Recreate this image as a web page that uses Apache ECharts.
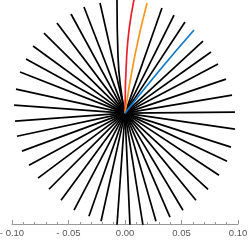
<!DOCTYPE html>
<html>
<head>
<meta charset="utf-8">
<script src="https://cdn.jsdelivr.net/npm/echarts@6/dist/echarts.min.js"></script>
<style>
html,body{margin:0;padding:0;background:#fff;}
#c{width:249px;height:243px;}
</style>
</head>
<body>
<div id="c"></div>
<script>
// Tick labels on the x axis
var xTicks = [-0.10, -0.05, 0.00, 0.05, 0.10];
var xTickLabels = ["- 0.10", "- 0.05", "0.00", "0.05", "0.10"];

// End points of the black rays (x, y), all starting at the origin
var blackEnds = [
  [-0.0221, 0.0973], [-0.0363, 0.0938], [-0.0478, 0.0876], [-0.0602, 0.0796],
  [-0.0717, 0.0708], [-0.0814, 0.0593], [-0.0876, 0.0478], [-0.0929, 0.0363],
  [-0.0965, 0.0212], [-0.0982, 0.0071], [-0.0973, -0.0071], [-0.0956, -0.0204],
  [-0.0912, -0.0336], [-0.0850, -0.0460], [-0.0770, -0.0575], [-0.0673, -0.0673],
  [-0.0566, -0.0770], [-0.0451, -0.0858], [-0.0319, -0.0912], [-0.0212, -0.0956],
  [-0.0071, -0.0991], [0.0044, -0.0991], [0.0159, -0.0991], [0.0274, -0.0956],
  [0.0398, -0.0920], [0.0513, -0.0858], [0.0628, -0.0770], [0.0735, -0.0673],
  [0.0832, -0.0549], [0.0903, -0.0425], [0.0938, -0.0301], [0.0973, -0.0142],
  [0.0973, 0.0009], [0.0947, 0.0159], [0.0894, 0.0301], [0.0823, 0.0434],
  [0.0761, 0.0540], [0.0690, 0.0637], [0.0531, 0.0805], [0.0434, 0.0867],
  [0.0327, 0.0929]
];
// The near-vertical top black ray (curved): origin, middle, end
var blackTop = [[0, 0], [-0.0062, 0.0504], [-0.0071, 0.1005]];

// Coloured rays: origin, middle, end
var redRay = [[0, 0], [0.0015, 0.0510], [0.0080, 0.1005]];
var orangeRay = [[0, 0], [0.0088, 0.0513], [0.0195, 0.0973]];
var blueRay = [[0, 0], [0.0301, 0.0372], [0.0611, 0.0735]];

var series = [];
blackEnds.forEach(function (e) {
  series.push({type: 'line', data: [[0, 0], e], symbol: 'none', silent: true,
    lineStyle: {color: '#000', width: 1.7}});
});
series.push({type: 'line', data: blackTop, smooth: true, symbol: 'none', silent: true,
  lineStyle: {color: '#000', width: 1.7}});
[[redRay, '#e8212b'], [orangeRay, '#f7951e'], [blueRay, '#1479c4']].forEach(function (p) {
  series.push({type: 'line', data: p[0], smooth: true, symbol: 'none', silent: true,
    lineStyle: {color: p[1], width: 1.7}});
});

var chart = echarts.init(document.getElementById('c'), null, {renderer: 'canvas'});
chart.setOption({
  animation: false,
  grid: {left: 12, right: 11, top: 0, bottom: 19, containLabel: false, outerBoundsMode: 'none'},
  xAxis: {
    type: 'value', min: -0.1, max: 0.1, interval: 0.05,
    axisLine: {show: true, onZero: false, lineStyle: {color: '#999', width: 1}},
    axisTick: {show: true, inside: true, length: 4, lineStyle: {color: '#999'}},
    minorTick: {show: true, splitNumber: 5, length: 2, lineStyle: {color: '#999'}},
    splitLine: {show: false},
    axisLabel: {
      color: '#555', fontSize: 9.5, margin: 4, fontFamily: 'Liberation Sans',
      hideOverlap: false, showMinLabel: true, showMaxLabel: true,
      formatter: function (v) {
        for (var i = 0; i < xTicks.length; i++) {
          if (Math.abs(v - xTicks[i]) < 1e-9) return xTickLabels[i];
        }
        return '';
      }
    }
  },
  yAxis: {type: 'value', min: -0.098, max: 0.1, show: false},
  series: series
});
</script>
</body>
</html>
